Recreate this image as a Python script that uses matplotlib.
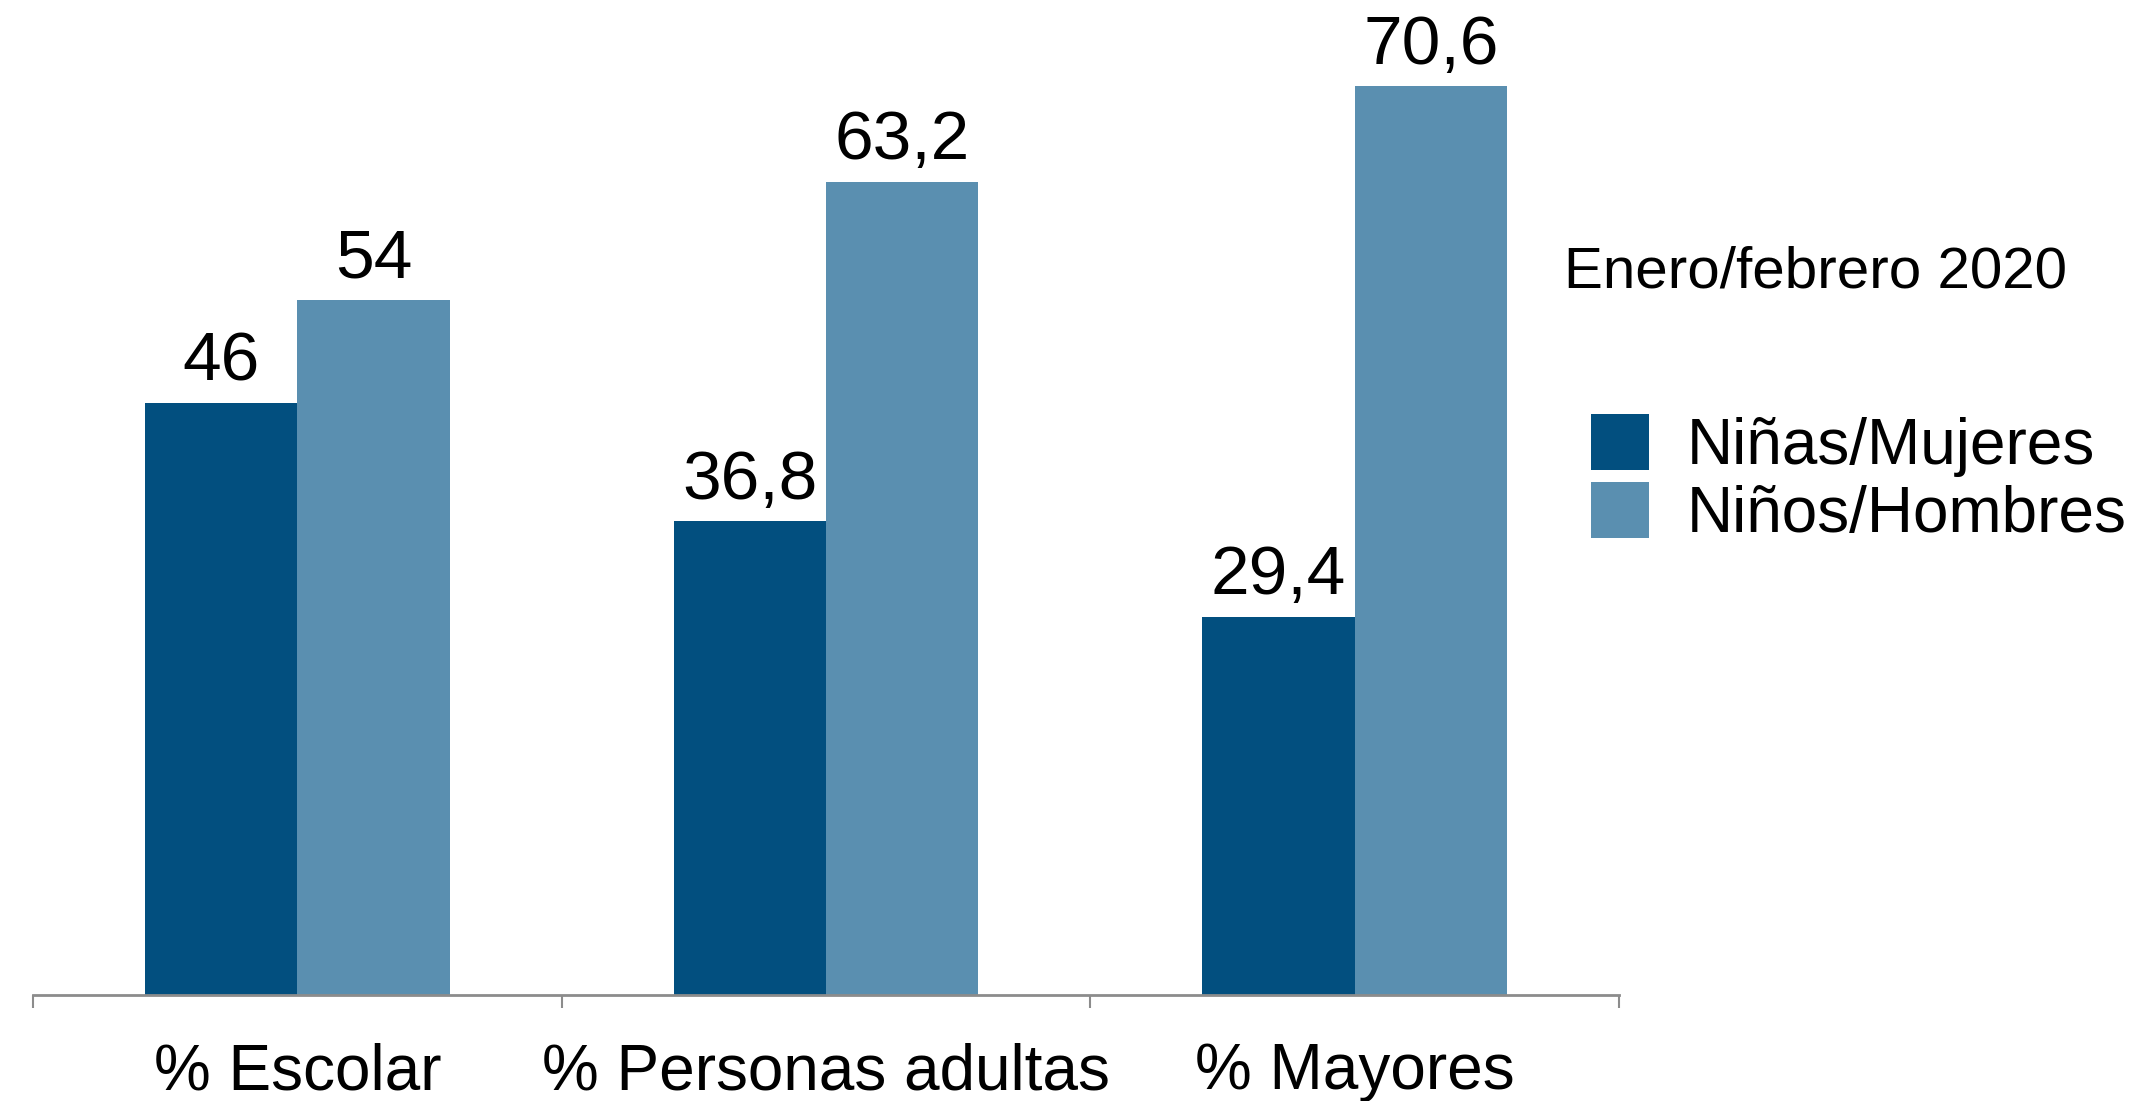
import matplotlib.pyplot as plt
import numpy as np

# data
categorias = ['% Escolar', '% Personas adultas', '% Mayores']
mujeres = [46, 36.8, 29.4]
hombres = [54, 63.2, 70.6]
series_names = ['Niñas/Mujeres', 'Niños/Hombres']
subtitulo = 'Enero/febrero 2020'

col_dark = '#024f7f'
col_light = '#5a8fb0'

plt.rcParams['font.family'] = ['Liberation Sans', 'DejaVu Sans']

fig = plt.figure(figsize=(21.42, 11.01), dpi=100)
ax = fig.add_axes([33/2142, 1 - 995/1101, (1619-33)/2142, (995-17)/1101])

x = np.arange(len(categorias))
w = 0.288
b1 = ax.bar(x - w/2, mujeres, w, color=col_dark, label=series_names[0])
b2 = ax.bar(x + w/2, hombres, w, color=col_light, label=series_names[1])

def fmt(v):
    return ('%g' % v).replace('.', ',')

for bars, vals in ((b1, mujeres), (b2, hombres)):
    for r, v in zip(bars, vals):
        ax.annotate(fmt(v), (r.get_x() + r.get_width()/2, v), xytext=(0, 6),
                    textcoords='offset points', ha='center', va='bottom', fontsize=50)

ax.set_xlim(-0.5, 2.5)
ax.set_ylim(0, 76)
ax.set_yticks([])
for s in ['left', 'right', 'top']:
    ax.spines[s].set_visible(False)
ax.spines['bottom'].set_color('#8c8c8c')
ax.spines['bottom'].set_linewidth(2)

# boundary ticks, labels on minor ticks
ax.set_xticks([-0.5, 0.5, 1.5, 2.5])
ax.set_xticklabels([])
ax.tick_params(axis='x', which='major', direction='out', length=9, width=1.5, color='#8c8c8c')
ax.set_xticks(x, minor=True)
ax.set_xticklabels(categorias, minor=True, fontsize=46)
ax.tick_params(axis='x', which='minor', length=0, pad=34)

fig.text(1564/2142, 1 - 273/1101, subtitulo, fontsize=42, va='center', ha='left')

leg = fig.legend(handles=[b1, b2], loc='upper left', bbox_to_anchor=(1591/2142, 1 - 414/1101),
                 frameon=False, fontsize=46, handlelength=0.9, handleheight=0.97,
                 handletextpad=0.6, labelspacing=0.08, borderpad=0, borderaxespad=0)

fig.savefig('out.png', dpi=100)
